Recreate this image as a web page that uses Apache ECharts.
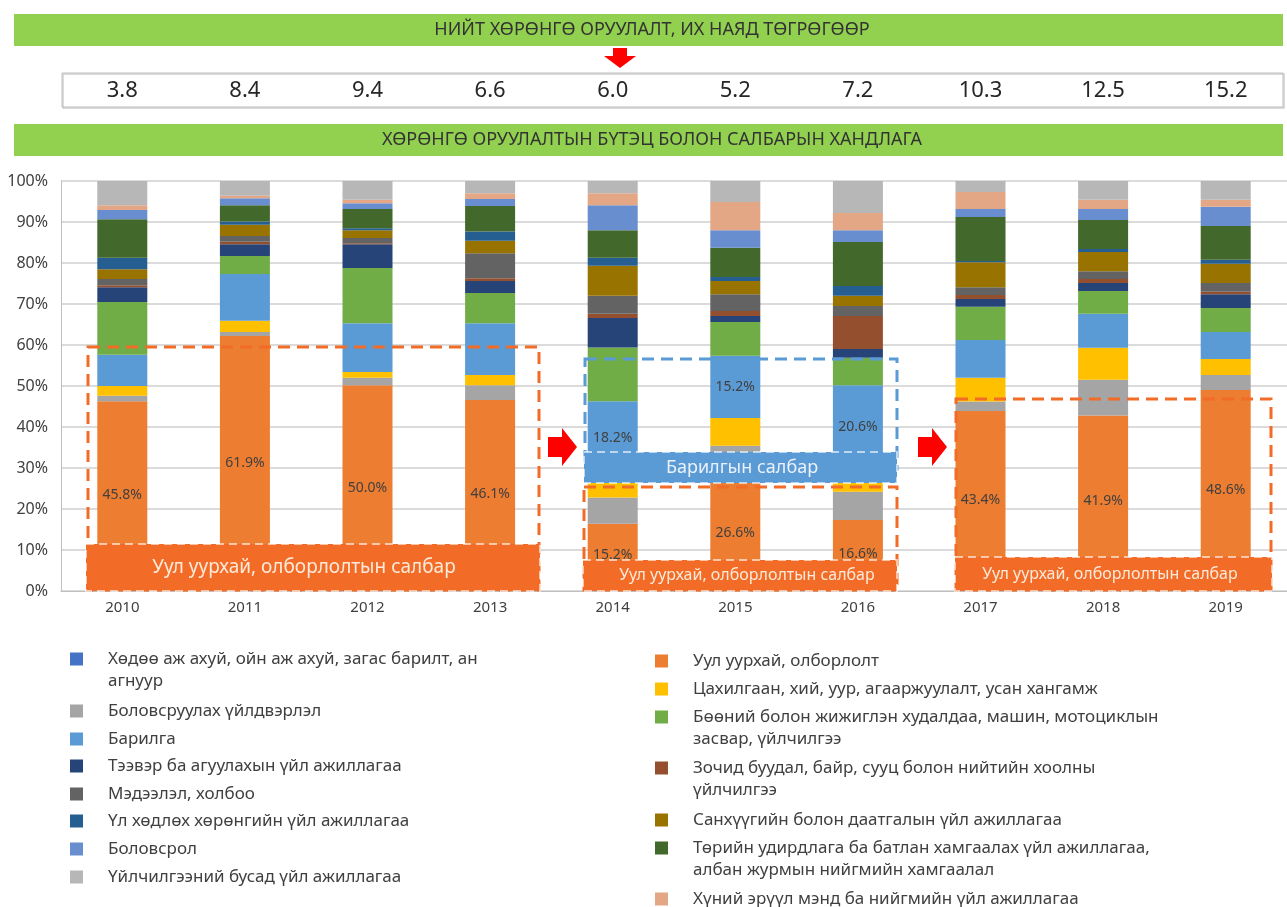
<!DOCTYPE html>
<html>
<head>
<meta charset="utf-8">
<script src="https://cdn.jsdelivr.net/npm/echarts@6/dist/echarts.min.js"></script>
<style>
  html, body { margin: 0; padding: 0; background: #fff; }
  #chart { width: 1287px; height: 907px; }
</style>
</head>
<body>
<div id="chart"></div>
<script>
// years and totals (trillion MNT)
const years = ['2010', '2011', '2012', '2013', '2014', '2015', '2016', '2017', '2018', '2019'];
const totals = [3.8, 8.4, 9.4, 6.6, 6.0, 5.2, 7.2, 10.3, 12.5, 15.2];

// sector shares, % (bottom to top of the stack)
const agri        = [0.5, 0.3, 0.2, 0.5, 1.2, 0.8, 0.7, 0.5, 0.9, 0.4];
const mining      = [45.8, 61.9, 50.0, 46.1, 15.2, 26.6, 16.6, 43.4, 41.9, 48.6];
const manuf       = [1.3, 1.0, 1.8, 3.6, 6.4, 8.0, 6.9, 2.3, 8.7, 3.7];
const elec        = [2.4, 2.7, 1.4, 2.5, 5.3, 6.8, 5.4, 5.8, 7.8, 3.9];
const constr      = [7.6, 11.4, 11.9, 12.6, 18.2, 15.2, 20.6, 9.2, 8.3, 6.6];
const trade       = [12.9, 4.4, 13.5, 7.4, 13.1, 8.2, 6.7, 8.1, 5.6, 5.8];
const transport   = [3.6, 2.9, 5.8, 2.9, 7.2, 1.5, 2.1, 1.9, 1.9, 3.4];
const hotel       = [0.5, 0.6, 0.2, 0.7, 1.0, 1.2, 8.1, 1.0, 1.0, 0.6];
const info        = [1.5, 1.4, 1.3, 6.1, 4.4, 4.1, 2.4, 1.9, 1.9, 2.1];
const finance     = [2.4, 2.7, 1.9, 3.0, 7.3, 3.2, 2.5, 6.1, 4.7, 4.7];
const realEstate  = [2.8, 0.8, 0.5, 2.3, 2.0, 1.0, 2.4, 0.3, 0.7, 1.0];
const publicAdmin = [9.4, 4.0, 4.7, 6.2, 6.7, 7.1, 10.7, 10.7, 7.1, 8.2];
const education   = [2.2, 1.7, 1.4, 1.7, 6.1, 4.3, 2.9, 2.0, 2.7, 4.7];
const health      = [1.2, 0.6, 0.8, 1.4, 2.9, 6.9, 4.2, 4.1, 2.2, 1.7];
const other       = [5.9, 3.6, 4.6, 3.0, 3.0, 5.1, 7.8, 2.7, 4.6, 4.6];

const sectors = [
  'Хөдөө аж ахуй, ойн аж ахуй, загас барилт, ан\nагнуур',
  'Уул уурхай, олборлолт',
  'Боловсруулах үйлдвэрлэл',
  'Цахилгаан, хий, уур, агааржуулалт, усан хангамж',
  'Барилга',
  'Бөөний болон жижиглэн худалдаа, машин, мотоциклын\nзасвар, үйлчилгээ',
  'Тээвэр ба агуулахын үйл ажиллагаа',
  'Зочид буудал, байр, сууц болон нийтийн хоолны\nүйлчилгээ',
  'Мэдээлэл, холбоо',
  'Санхүүгийн болон даатгалын үйл ажиллагаа',
  'Үл хөдлөх хөрөнгийн үйл ажиллагаа',
  'Төрийн удирдлага ба батлан хамгаалах үйл ажиллагаа,\nалбан журмын нийгмийн хамгаалал',
  'Боловсрол',
  'Хүний эрүүл мэнд ба нийгмийн үйл ажиллагаа',
  'Үйлчилгээний бусад үйл ажиллагаа'
];
const values = [agri, mining, manuf, elec, constr, trade, transport, hotel, info, finance, realEstate, publicAdmin, education, health, other];
const colors = ['#4472C4', '#ED7D31', '#A5A5A5', '#FFC000', '#5B9BD5', '#70AD47', '#264478', '#94502E',
  '#636363', '#997300', '#255E91', '#43682B', '#698ED0', '#E4A785', '#B7B7B7'];

const FONT = '"Noto Sans", "Open Sans", sans-serif';
const TXT = '#404040';

var chart = echarts.init(document.getElementById('chart'));

// legend: two columns, row centers
const leftRows = [657, 709, 737, 764, 792, 819, 847, 875];
const rightRows = [659, 687, 715, 766, 818, 846, 897];
const legends = [];
const graphics = [];
sectors.forEach(function (name, i) {
  const col = i % 2;
  const row = Math.floor(i / 2);
  const cy = col === 0 ? leftRows[row] : rightRows[row];
  const lx = col === 0 ? 70 : 655;
  legends.push({
    data: [name],
    left: lx,
    top: cy - 6.5,
    padding: 0,
    icon: 'rect',
    itemWidth: 13,
    itemHeight: 13,
    selectedMode: false,
    formatter: function (n) { return n.split('\n')[0]; },
    textStyle: { fontSize: 17, fontFamily: FONT, color: TXT, padding: [0, 0, 0, 20] }
  });
  const parts = name.split('\n');
  if (parts.length > 1) {
    graphics.push({
      type: 'text', z: 100,
      style: { text: parts[1], x: lx + 38, y: cy + 24.5, fill: TXT, font: '17px ' + FONT,
        align: 'left', verticalAlign: 'middle', textAlign: 'left', textVerticalAlign: 'middle' }
    });
  }
});

function banner(y, h, text) {
  graphics.push({ type: 'rect', z: 90, shape: { x: 14, y: y, width: 1269, height: h }, style: { fill: '#92D050' } });
  graphics.push({
    type: 'text', z: 91,
    style: { text: text, x: 652, y: y + h / 2, fill: '#333333', font: '18px ' + FONT,
      align: 'center', verticalAlign: 'middle', textAlign: 'center', textVerticalAlign: 'middle' }
  });
}
banner(14, 32, 'НИЙТ ХӨРӨНГӨ ОРУУЛАЛТ, ИХ НАЯД ТӨГРӨГӨӨР');
banner(124, 32, 'ХӨРӨНГӨ ОРУУЛАЛТЫН БҮТЭЦ БОЛОН САЛБАРЫН ХАНДЛАГА');

// totals box (outline only, so the axis labels show through)
graphics.push({
  type: 'rect', z: 1, shape: { x: 63, y: 74, width: 1221, height: 34 },
  style: { fill: 'none', stroke: '#D0D0D0', lineWidth: 1.5 }
});
graphics.push({
  type: 'rect', z: 1, shape: { x: 62, y: 73, width: 1221, height: 34 },
  style: { fill: 'none', stroke: '#BFBFBF', lineWidth: 1 }
});

// arrows
graphics.push({ type: 'polygon', z: 95, shape: { points: [[613, 48], [627, 48], [627, 56], [636, 56], [620, 68], [604, 56], [613, 56]] }, style: { fill: '#FF0000' } });
[548, 918].forEach(function (x) {
  graphics.push({ type: 'polygon', z: 95,
    shape: { points: [[x, 437], [x + 14, 437], [x + 14, 428], [x + 29, 447], [x + 14, 466], [x + 14, 457], [x, 457]] },
    style: { fill: '#FF0000' } });
});

// annotation frames
function frame(x, y, w, h, color) {
  graphics.push({ type: 'rect', z: 100, shape: { x: x, y: y, width: w, height: h },
    style: { fill: 'none', stroke: color, lineWidth: 3, lineDash: [12, 7] } });
}
function tag(x, y, w, h, fill, text, size, tx, textColor) {
  graphics.push({ type: 'rect', z: 101, shape: { x: x, y: y, width: w, height: h },
    style: { fill: fill, stroke: 'rgba(255,255,255,0.6)', lineWidth: 2, lineDash: [8, 5] } });
  graphics.push({ type: 'text', z: 102,
    style: { text: text, x: tx, y: y + h / 2, fill: textColor, font: size + 'px ' + FONT,
      align: 'center', verticalAlign: 'middle', textAlign: 'center', textVerticalAlign: 'middle' } });
}
const ORANGE = '#F26C27';
const BLUE = '#5B9BD5';
frame(88, 347, 451, 243, ORANGE);
tag(86, 544, 454, 47, ORANGE, 'Уул уурхай, олборлолтын салбар', 19, 304, '#FDEADA');
frame(585, 359, 312, 110, BLUE);
tag(584, 452, 313, 31, BLUE, 'Барилгын салбар', 18, 742, '#EAF1FA');
frame(584, 487, 313, 103, ORANGE);
tag(583, 560, 314, 31, ORANGE, 'Уул уурхай, олборлолтын салбар', 16, 747, '#FDEADA');
frame(956, 399, 315, 191, ORANGE);
tag(955, 557, 317, 34, ORANGE, 'Уул уурхай, олборлолтын салбар', 16, 1110, '#FDEADA');

function pctLabel(p) { return p.value.toFixed(1) + '%'; }
const labelStyle = { show: true, position: 'inside', color: TXT, fontSize: 14, fontFamily: FONT, formatter: pctLabel };

const series = sectors.map(function (name, i) {
  let data = values[i];
  if (i === 1) {
    data = values[i].map(function (v) { return { value: v, label: labelStyle }; });
  } else if (i === 4) {
    data = values[i].map(function (v, k) { return (k >= 4 && k <= 6) ? { value: v, label: labelStyle } : v; });
  }
  return {
    name: name,
    type: 'bar',
    stack: 'total',
    barWidth: 50,
    itemStyle: { color: colors[i] },
    emphasis: { disabled: true },
    data: data
  };
});

var option = {
  animation: false,
  textStyle: { fontFamily: FONT },
  grid: { left: 61, top: 181, width: 1236, height: 410 },
  legend: legends,
  xAxis: [
    {
      type: 'category',
      data: years,
      axisTick: { show: false },
      axisLine: { lineStyle: { color: '#BFBFBF', width: 1 } },
      axisLabel: { color: TXT, fontSize: 15, margin: 9, fontFamily: FONT }
    },
    {
      type: 'category',
      data: years,
      position: 'top',
      offset: 90,
      axisTick: { show: false },
      axisLine: { show: false },
      axisLabel: {
        color: '#262626', fontSize: 22, margin: 0, verticalAlign: 'middle', fontFamily: FONT,
        formatter: function (v, idx) { return totals[idx].toFixed(1); }
      }
    }
  ],
  yAxis: {
    type: 'value',
    min: 0,
    max: 100,
    interval: 10,
    axisLine: { show: true, lineStyle: { color: '#BFBFBF' } },
    axisLabel: { color: TXT, fontSize: 16, margin: 13, formatter: '{value}%', fontFamily: FONT },
    splitLine: { lineStyle: { color: '#CFCFCF', width: 1.5 } }
  },
  graphic: graphics,
  series: series
};

chart.setOption(option);
</script>
</body>
</html>
